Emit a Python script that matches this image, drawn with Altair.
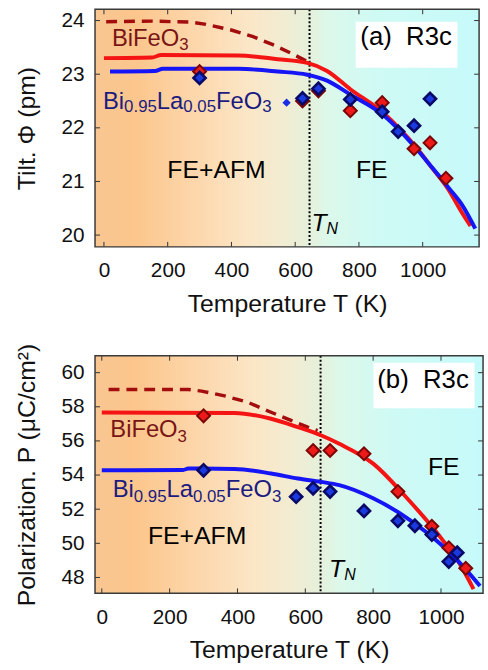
import altair as alt
import pandas as pd

FONT = "Liberation Sans"

# ---------------- data ----------------
T_N = 645

# panel (a): octahedral tilt (pm)
a_red_line_T = [0, 150, 180, 421, 545, 638, 700, 773, 876, 928, 979, 1031, 1083, 1120, 1150]
a_red_line_v = [23.30, 23.31, 23.36, 23.35, 23.28, 23.21, 23.06, 22.72, 22.28, 21.98, 21.64, 21.24, 20.83, 20.45, 20.17]
a_blue_line_T = [19, 160, 185, 421, 545, 638, 700, 773, 876, 928, 979, 1031, 1083, 1124, 1165]
a_blue_line_v = [23.05, 23.06, 23.10, 23.10, 23.05, 22.99, 22.88, 22.62, 22.24, 21.95, 21.62, 21.25, 20.87, 20.56, 20.12]
a_dash_T = [7, 150, 274, 320, 402, 468, 530, 591, 640]
a_dash_v = [23.98, 23.99, 23.97, 23.93, 23.82, 23.70, 23.55, 23.38, 23.23]
a_red_pts_T = [300, 623, 673, 773, 873, 973, 1023, 1073]
a_red_pts_v = [23.05, 22.50, 22.69, 22.32, 22.47, 21.61, 21.72, 21.06]
a_blue_pts_T = [300, 623, 673, 773, 873, 923, 973, 1023]
a_blue_pts_v = [22.93, 22.55, 22.73, 22.53, 22.30, 21.93, 22.04, 22.54]
a_small_T = [573]
a_small_v = [22.47]

# panel (b): polarization (uC/cm2)
b_red_line_T = [0, 391, 499, 578, 646, 700, 800, 900, 1000, 1050, 1096]
b_red_line_v = [57.66, 57.64, 57.30, 56.81, 56.33, 55.83, 54.67, 52.64, 50.32, 48.97, 47.32]
b_blue_line_T = [0, 240, 255, 391, 499, 578, 646, 700, 800, 900, 1000, 1050, 1115]
b_blue_line_v = [54.28, 54.30, 54.38, 54.36, 54.09, 53.80, 53.60, 53.41, 52.64, 51.48, 49.93, 48.97, 47.50]
b_dash_T = [20, 255, 294, 362, 431, 499, 558, 607, 636]
b_dash_v = [59.01, 59.01, 58.92, 58.64, 58.26, 57.68, 57.20, 56.81, 56.60]
b_red_pts_T = [300, 623, 673, 773, 873, 973, 1023, 1073]
b_red_pts_v = [57.47, 55.44, 55.44, 55.25, 53.03, 51.00, 49.74, 48.54]
b_blue_pts_T = [300, 573, 623, 673, 773, 873, 923, 973, 1023, 1048]
b_blue_pts_v = [54.28, 52.73, 53.22, 53.03, 51.90, 51.32, 51.03, 50.51, 48.93, 49.45]

x_ticks = [0, 200, 400, 600, 800, 1000]
a_y_ticks = [20, 21, 22, 23, 24]
b_y_ticks = [48, 50, 52, 54, 56, 58, 60]

# background colour stops (temperature, colour)
bg_stops = [(-30, "#f8c692"), (100, "#fcc68c"), (300, "#fdd8ae"), (450, "#fbe6c6"),
            (560, "#f2ecd2"), (640, "#e6f0da"), (700, "#dcf8ea"), (850, "#cffaf4"),
            (1180, "#c6fafa")]

RED = "#f41414"
BLUE = "#1515f5"
DRED = "#a30d0d"
TXT_RED = "#7a1515"
TXT_BLUE = "#1c1c80"

ARIAL = {"B": .667, "i": .222, "F": .611, "e": .556, "O": .778, "L": .556, "a": .556,
         ".": .278, "T": .611, "N": .722}


def tw(s, size):
    return sum(ARIAL.get(c, .556) for c in s) * size


def df2(T, v):
    return pd.DataFrame({"T": T, "v": v})


def panel(xd, yd, yticks, ytitle, W, H, red_l, blue_l, dash_l, red_p, blue_p, extra_p,
          box, tag, tag_pos, bife_pos, bila_pos, feafm_pos, fe_pos, tn_pos, sub_dy):
    X = alt.X("T:Q", scale=alt.Scale(domain=xd, nice=False, zero=False),
              axis=alt.Axis(values=x_ticks, title="Temperature T (K)", grid=False, ticks=False,
                            domain=False, format="d", labelPadding=13, titlePadding=11))
    Y = alt.Y("v:Q", scale=alt.Scale(domain=yd, nice=False, zero=False),
              axis=alt.Axis(values=yticks, title=ytitle, grid=False, ticks=False,
                            domain=False, format="d", labelPadding=11, titlePadding=22))
    span = xd[1] - xd[0]
    stops = [alt.GradientStop(color=c, offset=min(1, max(0, (t - xd[0]) / span)))
             for t, c in bg_stops]
    rect_df = pd.DataFrame({"T": [xd[0]], "T2": [xd[1]], "v": [yd[0]], "v2": [yd[1]]})
    bg = alt.Chart(rect_df).mark_rect(
        color=alt.Gradient(gradient="linear", stops=stops, x1=0, x2=1, y1=0, y2=0)
    ).encode(x=X, x2="T2:Q", y=Y, y2="v2:Q")

    box_df = pd.DataFrame({"T": [box[0]], "T2": [box[1]], "v": [box[2]], "v2": [box[3]]})
    wbox = alt.Chart(box_df).mark_rect(fill="white").encode(x=X, x2="T2:Q", y=Y, y2="v2:Q")

    tn = alt.Chart(pd.DataFrame({"T": [T_N]})).mark_rule(
        color="black", strokeDash=[2, 2], strokeWidth=2).encode(x=X)

    dash = alt.Chart(df2(*dash_l)).mark_line(color=DRED, strokeWidth=3.5, strokeDash=[11, 7]).encode(x=X, y=Y)
    redl = alt.Chart(df2(*red_l)).mark_line(color=RED, strokeWidth=4, interpolate="monotone").encode(x=X, y=Y)
    bluel = alt.Chart(df2(*blue_l)).mark_line(color=BLUE, strokeWidth=4, interpolate="monotone").encode(x=X, y=Y)

    redp = alt.Chart(df2(*red_p)).mark_point(shape="diamond", filled=True, size=170, fill="#ee1a1a",
                                             stroke="#7a0505", strokeWidth=2, opacity=1).encode(x=X, y=Y)
    bluep = alt.Chart(df2(*blue_p)).mark_point(shape="diamond", filled=True, size=150, fill="#1a3ae0",
                                               stroke="#0a0a66", strokeWidth=2.6, opacity=1).encode(x=X, y=Y)
    layers = [bg, wbox, tn, dash, redl, bluel, redp, bluep]
    if extra_p is not None:
        layers.append(alt.Chart(df2(*extra_p)).mark_point(shape="diamond", filled=True, size=70,
                                                          color="#1a2ee8", opacity=1).encode(x=X, y=Y))

    def rich(pos, frags, color, italic=False):
        out = []
        off = 0
        d = pd.DataFrame({"T": [pos[0]], "v": [pos[1]]})
        for text, size, dy in frags:
            out.append(alt.Chart(d).mark_text(
                text=text, align="left", baseline="alphabetic", dx=off, dy=dy, fontSize=size,
                font=FONT, color=color, fontStyle="italic" if italic else "normal").encode(x=X, y=Y))
            off += tw(text, size)
        return out

    def centered(pos, text, size=24, color="black"):
        d = pd.DataFrame({"T": [pos[0]], "v": [pos[1]]})
        return alt.Chart(d).mark_text(text=text, align="center", baseline="middle", fontSize=size,
                                      font=FONT, color=color).encode(x=X, y=Y)

    layers += rich(bife_pos, [("BiFeO", 24, 0), ("3", 17, sub_dy)], TXT_RED)
    layers += rich(bila_pos, [("Bi", 24, 0), ("0.95", 17, sub_dy), ("La", 24, 0), ("0.05", 17, sub_dy),
                              ("FeO", 24, 0), ("3", 17, sub_dy)], TXT_BLUE)
    layers += rich(tn_pos, [("T", 25, 0), ("N", 16, 3)], "black", italic=True)
    layers.append(centered(tag_pos, tag, 26))
    layers.append(centered(feafm_pos, "FE+AFM", 25))
    layers.append(centered(fe_pos, "FE", 25))

    # inward ticks
    xt = pd.DataFrame({"T": x_ticks})
    yt = pd.DataFrame({"v": yticks})
    tc = "#333333"
    layers.append(alt.Chart(xt).mark_rule(color=tc, strokeWidth=1).encode(x=X, y=alt.value(H), y2=alt.value(H - 5)))
    layers.append(alt.Chart(xt).mark_rule(color=tc, strokeWidth=1).encode(x=X, y=alt.value(0), y2=alt.value(5)))
    layers.append(alt.Chart(yt).mark_rule(color=tc, strokeWidth=1).encode(y=Y, x=alt.value(0), x2=alt.value(5)))
    layers.append(alt.Chart(yt).mark_rule(color=tc, strokeWidth=1).encode(y=Y, x=alt.value(W - 5), x2=alt.value(W)))

    frame = alt.Chart(rect_df).mark_rect(fillOpacity=0, stroke="#3a3a3a", strokeWidth=1.5).encode(
        x=X, x2="T2:Q", y=Y, y2="v2:Q")
    layers.append(frame)
    return alt.layer(*layers).properties(width=W, height=H)


pa = panel([-28, 1177], [19.78, 24.21], a_y_ticks, "Tilt. Φ (pm)", 388, 240,
           (a_red_line_T, a_red_line_v), (a_blue_line_T, a_blue_line_v), (a_dash_T, a_dash_v),
           (a_red_pts_T, a_red_pts_v), (a_blue_pts_T, a_blue_pts_v), (a_small_T, a_small_v),
           box=(790, 1109, 23.12, 23.98), tag="(a)\u00a0\u00a0R3c", tag_pos=(948, 23.70),
           bife_pos=(25, 23.52), bila_pos=(-3, 22.36), feafm_pos=(353, 21.22), fe_pos=(840, 21.22),
           tn_pos=(651, 20.07), sub_dy=4)

pb = panel([-20, 1124], [47.07, 60.99], b_y_ticks, "Polarization. P (μC/cm²)", 392, 240,
           (b_red_line_T, b_red_line_v), (b_blue_line_T, b_blue_line_v), (b_dash_T, b_dash_v),
           (b_red_pts_T, b_red_pts_v), (b_blue_pts_T, b_blue_pts_v), None,
           box=(801, 1099, 57.91, 60.58), tag="(b)\u00a0\u00a0R3c", tag_pos=(947, 59.59),
           bife_pos=(25, 56.21), bila_pos=(32, 52.74), feafm_pos=(281, 50.41), fe_pos=(1008, 54.45),
           tn_pos=(670, 48.04), sub_dy=5)

chart = alt.vconcat(pa, pb, spacing=110, bounds="flush").properties(
    padding={"left": 14, "top": 5, "right": 0, "bottom": 0}
).configure_axis(
    labelFont=FONT, titleFont=FONT, labelFontSize=21, titleFontSize=25, titleFontWeight="normal",
    labelColor="#111111", titleColor="#111111"
).configure_view(stroke=None)

chart.save("out.html", embed_options={"renderer": "svg", "actions": False})
